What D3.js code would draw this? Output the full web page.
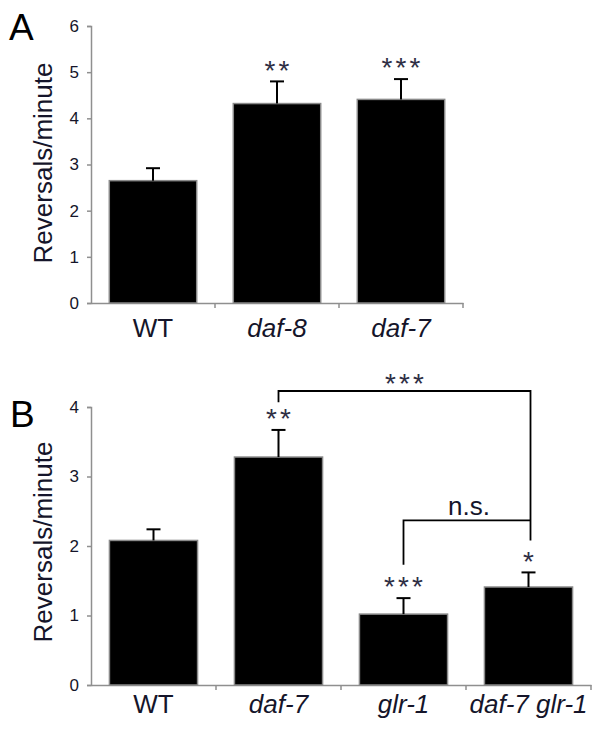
<!DOCTYPE html>
<html><head><meta charset="utf-8">
<script src="https://cdn.jsdelivr.net/npm/d3@7"></script>
<style>body{margin:0;background:#fff}svg{display:block}text{font-family:"Liberation Sans",Arial,sans-serif}</style>
</head><body><svg id="c" width="601" height="729"></svg>
<script>
// Panel A data
const catsA = ["WT", "daf-8", "daf-7"];
const italicA = [false, true, true];
const meanA = [2.65, 4.32, 4.41];
const errA = [0.27, 0.48, 0.44];
const sigA = ["", "**", "***"];
const ticksA = [0, 1, 2, 3, 4, 5, 6];

// Panel B data
const catsB = ["WT", "daf-7", "glr-1", "daf-7 glr-1"];
const italicB = [false, true, true, true];
const meanB = [2.08, 3.28, 1.02, 1.41];
const errB = [0.16, 0.39, 0.23, 0.21];
const sigB = ["", "**", "***", "*"];
const ticksB = [0, 1, 2, 3, 4];
const bracketsB = [
  {from: "daf-7", to: "daf-7 glr-1", y: 4.23, leftEnd: 4.07, rightEnd: 2.08, label: "***"},
  {from: "glr-1", to: "daf-7 glr-1", y: 2.37, leftEnd: 1.73, rightEnd: 2.37, label: "n.s."}
];

const svg = d3.select("#c");
const AXIS = "#8f8f8f", TXT = "#15152a", STAR = "#2e2e44";

function stars(g, s, cx, cy) {
  const n = s.length, gap = 14, fs = 28;
  for (let i = 0; i < n; i++) {
    g.append("text").attr("x", cx + gap * (i - (n - 1) / 2)).attr("y", cy + fs * 0.58)
      .attr("text-anchor", "middle").attr("font-size", fs).attr("fill", STAR).text("*");
  }
}

function panel(o) {
  const g = svg.append("g");
  const y = d3.scaleLinear().domain([0, o.ticks[o.ticks.length - 1]]).range([o.y0, o.y1]);
  const x = d3.scaleBand().domain(o.cats).range([o.x0, o.x1]).padding(0);
  const bw = x.bandwidth() * 0.705;

  // y axis
  const ya = g.append("g").attr("transform", `translate(${o.x0},0)`)
    .call(d3.axisLeft(y).tickValues(o.ticks).tickSize(4).tickPadding(8).tickFormat(d3.format("d")));
  ya.select(".domain").attr("stroke", AXIS).attr("stroke-width", 1.5);
  ya.selectAll(".tick line").attr("stroke", AXIS).attr("stroke-width", 1.5);
  ya.selectAll(".tick text").attr("font-size", 17).attr("fill", TXT).attr("font-family", '"Liberation Sans",Arial,sans-serif');

  // x axis
  const xa = g.append("g").attr("transform", `translate(0,${o.y0})`)
    .call(d3.axisBottom(x).tickSize(0).tickFormat(""));
  xa.select(".domain").attr("stroke", AXIS).attr("stroke-width", 1.5);
  xa.selectAll(".tick").remove();
  const bounds = o.cats.map(c => x(c) + x.bandwidth());
  g.selectAll(".xt").data(bounds).join("line")
    .attr("x1", d => d).attr("x2", d => d).attr("y1", o.y0).attr("y2", o.y0 + 5)
    .attr("stroke", AXIS).attr("stroke-width", 1.5);

  // bars
  g.selectAll(".bar").data(o.cats).join("rect")
    .attr("x", c => x(c) + (x.bandwidth() - bw) / 2)
    .attr("y", (c, i) => y(o.mean[i]))
    .attr("width", bw)
    .attr("height", (c, i) => y(0) - y(o.mean[i]))
    .attr("fill", "#000").attr("stroke", "#8a8a8a").attr("stroke-width", 1.5);

  // error bars
  o.cats.forEach((c, i) => {
    const cx = x(c) + x.bandwidth() / 2;
    const top = y(o.mean[i] + o.err[i]);
    g.append("line").attr("x1", cx).attr("x2", cx).attr("y1", y(o.mean[i])).attr("y2", top)
      .attr("stroke", "#000").attr("stroke-width", 2);
    g.append("line").attr("x1", cx - 7).attr("x2", cx + 7).attr("y1", top).attr("y2", top)
      .attr("stroke", "#000").attr("stroke-width", 2);
    if (o.sig[i]) stars(g, o.sig[i], cx, top - 18);
  });

  // x labels
  o.cats.forEach((c, i) => {
    g.append("text").attr("x", x(c) + x.bandwidth() / 2).attr("y", o.y0 + o.labOff)
      .attr("text-anchor", "middle").attr("font-size", 26).attr("fill", TXT)
      .attr("font-style", o.italic[i] ? "italic" : "normal").text(c);
  });

  // y label
  g.append("text").attr("transform", `translate(52,${o.ylabY}) rotate(-90)`)
    .attr("text-anchor", "middle").attr("font-size", 26).attr("fill", TXT).text("Reversals/minute");

  // panel letter
  g.append("text").attr("x", o.letX).attr("y", o.letY).attr("font-size", 37).attr("fill", "#000").text(o.letter);

  // brackets
  (o.brackets || []).forEach(b => {
    const xl = x(b.from) + x.bandwidth() / 2, xr = x(b.to) + x.bandwidth() / 2 + 2;
    g.append("path").attr("d", `M${xl},${y(b.leftEnd)}V${y(b.y)}H${xr}V${y(b.rightEnd)}`)
      .attr("fill", "none").attr("stroke", "#000").attr("stroke-width", 1.8);
    if (b.label.startsWith("*")) stars(g, b.label, (xl + xr) / 2, y(b.y) - 14);
    else g.append("text").attr("x", (xl + xr) / 2 + 2).attr("y", y(b.y) - 5).attr("text-anchor", "middle")
      .attr("font-size", 26).attr("fill", TXT).text(b.label);
  });
}

panel({cats: catsA, italic: italicA, mean: meanA, err: errA, sig: sigA, ticks: ticksA,
  x0: 91, x1: 463, y0: 303, y1: 26, labOff: 34, ylabY: 163, letter: "A", letX: 9, letY: 40});
panel({cats: catsB, italic: italicB, mean: meanB, err: errB, sig: sigB, ticks: ticksB, brackets: bracketsB,
  x0: 91, x1: 591, y0: 685, y1: 407, labOff: 28, ylabY: 542, letter: "B", letX: 10, letY: 427});
</script></body></html>
